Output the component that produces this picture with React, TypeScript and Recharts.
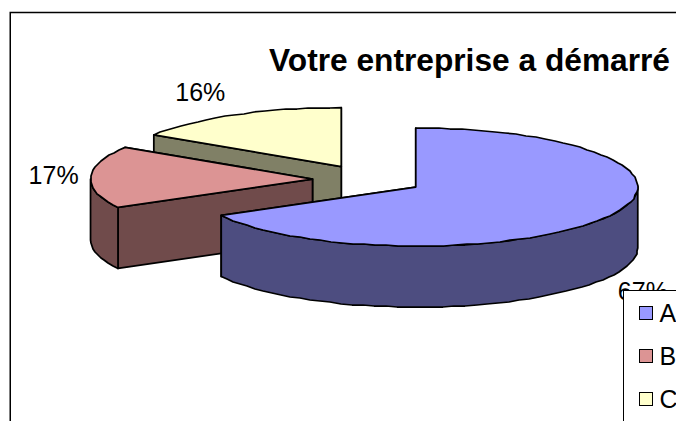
import React from "react"
import { PieChart, Pie, Legend } from "recharts"

const names = ["A", "B", "C"]
const values = [67, 17, 16]
const topColors = ["#9999FF", "#DC9494", "#FFFFCC"]
const sideColors = ["#4D4D80", "#704B4B", "#808066"]

// painted back to front, so C comes first and the angles run the other way round
const rows = names
  .map((name, i) => ({ name, value: values[i], fill: topColors[i], side: sideColors[i] }))
  .reverse()

const TILT = 0.2658
const DEPTH = 61
const EXPLODE = 0.25
const RAD = Math.PI / 180

// nudge of each percent label from the rim of its slice
const labelNudge: Record<string, [number, number]> = {
  A: [36, 74],
  B: [-37, -2],
  C: [-34, -23],
}

function sliceCentre(p: any) {
  const mid = ((p.startAngle + p.endAngle) / 2) * RAD
  return {
    x: p.cx + EXPLODE * p.outerRadius * Math.cos(mid),
    y: p.cy - EXPLODE * p.outerRadius * TILT * Math.sin(mid),
  }
}

function Slice3D(p: any) {
  const c = sliceCentre(p)
  const r = p.outerRadius
  const pt = (a: number, dy = 0) =>
    `${c.x + r * Math.cos(a * RAD)} ${c.y - r * TILT * Math.sin(a * RAD) + dy}`
  // rim points snapped to whole pixels, the original has that slightly stepped outline
  const snapped = (a: number, dy = 0) =>
    `${Math.round(c.x + r * Math.cos(a * RAD))} ${Math.round(c.y - r * TILT * Math.sin(a * RAD) + dy)}`
  const arc = (from: number, to: number, dy = 0) => {
    const out = []
    const n = Math.max(2, Math.ceil(Math.abs(to - from) / 3))
    for (let i = 0; i <= n; i++) {
      const a = from + ((to - from) * i) / n
      out.push(i === 0 || i === n ? pt(a, dy) : snapped(a, dy))
    }
    return out
  }
  const wall = (a: number) =>
    `M${c.x} ${c.y}L${pt(a)}L${pt(a, DEPTH)}L${c.x} ${c.y + DEPTH}Z`
  const s = p.startAngle
  const e = p.endAngle
  const frontFrom = Math.max(s, 180)
  const frontTo = Math.min(e, 360)
  const front =
    frontTo > frontFrom
      ? "M" + arc(frontFrom, frontTo).join("L") + "L" + arc(frontTo, frontFrom, DEPTH).join("L") + "Z"
      : null
  const style = { stroke: "#000", strokeWidth: 1.75, strokeLinejoin: "round" as const }
  return (
    <g>
      <path d={wall(s)} fill={p.side} {...style} />
      <path d={wall(e)} fill={p.side} {...style} />
      {front && <path d={front} fill={p.side} {...style} />}
      <path d={`M${c.x} ${c.y}L` + arc(s, e).join("L") + "Z"} fill={p.fill} {...style} />
    </g>
  )
}

function percentLabel(p: any) {
  const c = sliceCentre(p)
  const mid = p.midAngle * RAD
  const nudge = labelNudge[p.name]
  return (
    <text
      x={c.x + p.outerRadius * Math.cos(mid) + nudge[0]}
      y={c.y - p.outerRadius * TILT * Math.sin(mid) + nudge[1]}
      textAnchor="middle"
      dominantBaseline="central"
      fontFamily="'Liberation Sans', Arial, sans-serif"
      fontSize={25}
      fill="#000"
    >
      {p.value}%
    </text>
  )
}

function legendContent() {
  return (
    <div>
      {names.map((name, i) => (
        <div key={name} style={{ position: "absolute", left: 14.5, top: 14.5 + i * 43, display: "flex", alignItems: "center", height: 16 }}>
          <span style={{ width: 12, height: 12, background: topColors[i], border: "1.5px solid #000", display: "inline-block" }} />
          <span style={{ marginLeft: 7, fontSize: 25, lineHeight: "16px" }}>{name}</span>
        </div>
      ))}
    </div>
  )
}

export default function App() {
  return (
    <div style={{ position: "absolute", left: 0, top: 0, width: 676, height: 421, overflow: "hidden", background: "#fff" }}>
      <PieChart width={676} height={421} margin={{ top: 0, right: 0, bottom: 0, left: 0 }}>
        <rect x={10.25} y={12.5} width={800} height={600} fill="#fff" stroke="#000" strokeWidth={1.5} />
        <text x={269} y={71} fontFamily="'Liberation Sans', Arial, sans-serif" fontWeight="bold" fontSize={31.7} fill="#000">
          Votre entreprise a démarré
        </text>
        <Pie
          data={rows}
          dataKey="value"
          nameKey="name"
          cx={368}
          cy={179.5}
          innerRadius={0}
          outerRadius={222}
          startAngle={90}
          endAngle={450}
          stroke="#000"
          shape={Slice3D}
          label={percentLabel}
          labelLine={false}
          isAnimationActive={false}
        />
        <Legend
          content={legendContent}
          wrapperStyle={{
            position: "absolute",
            left: 623,
            top: 289.5,
            width: 120,
            height: 170,
            background: "#fff",
            border: "1.5px solid #000",
            fontFamily: "'Liberation Sans', Arial, sans-serif",
            color: "#000",
          }}
        />
      </PieChart>
    </div>
  )
}
